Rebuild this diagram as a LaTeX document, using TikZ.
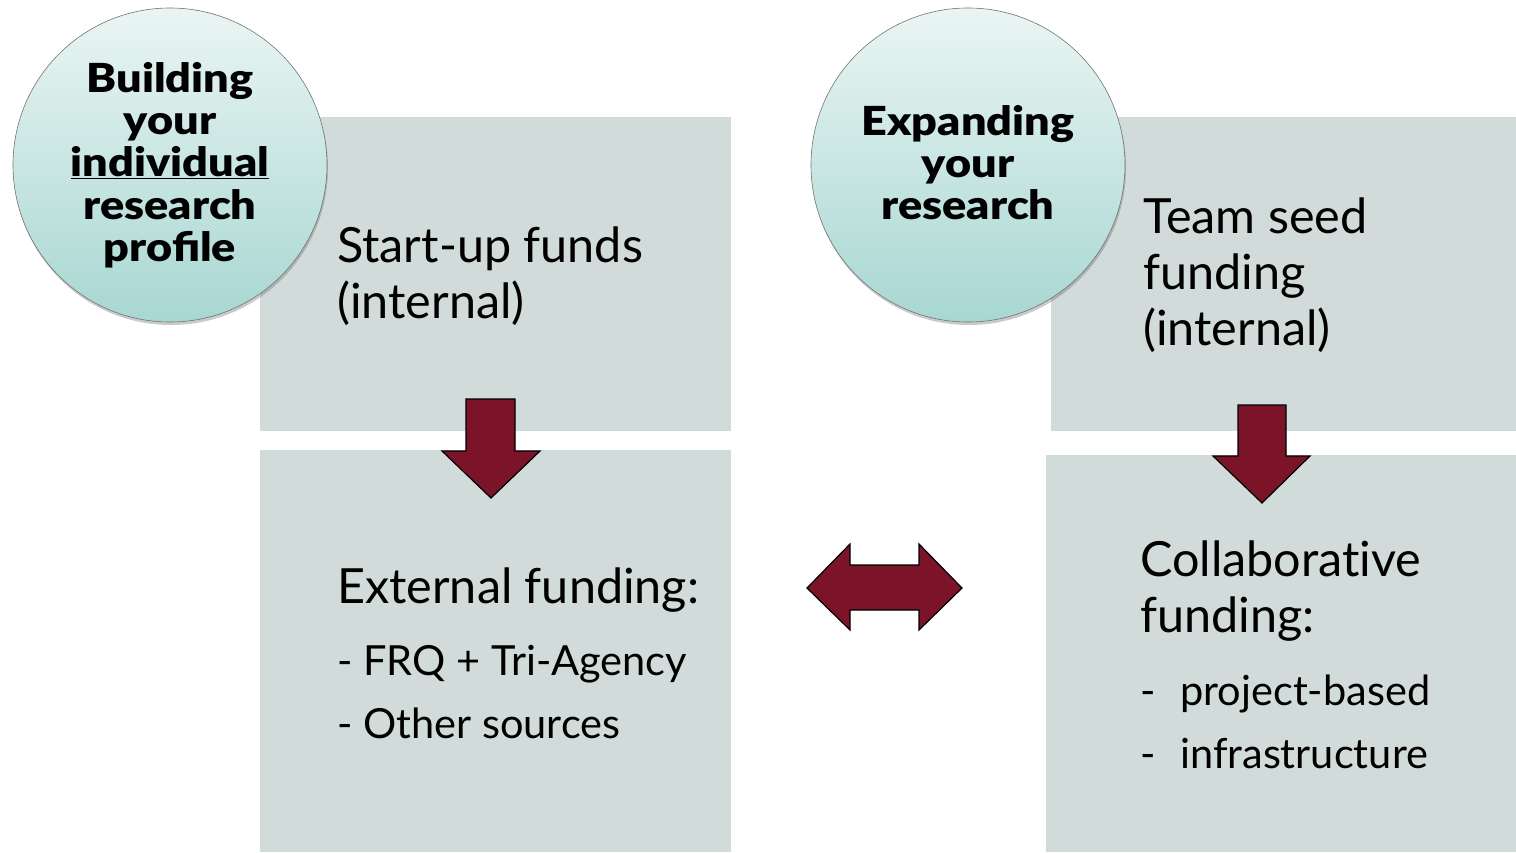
\documentclass[tikz,border=0pt]{standalone}
\usepackage{fontspec}
\setmainfont{Lato}[Ligatures=NoCommon]
\newfontfamily\heavy{Lato Black}[FakeStretch=1.125]
\usetikzlibrary{shadows}
\definecolor{boxgray}{HTML}{D0DBDA}
\definecolor{arrowred}{HTML}{7B1428}
\definecolor{circtop}{HTML}{EAF5F3}
\definecolor{circbot}{HTML}{A8D7D2}
\tikzset{
  box/.style={fill=boxgray, draw=none, anchor=north west, inner sep=0pt},
  circ/.style={circle, minimum size=314pt, inner sep=0pt, draw=black!55, line width=0.6pt,
    top color=circtop, bottom color=circbot,
    drop shadow={shadow xshift=1pt, shadow yshift=-3pt, opacity=0.35, fill=black!60}},
  ctext/.style={anchor=base, inner sep=0pt, font=\heavy\fontsize{40}{42}\selectfont},
  btext/.style={anchor=base west, inner sep=0pt, font=\fontsize{48.5}{56}\selectfont},
  stext/.style={anchor=base west, inner sep=0pt, font=\fontsize{41.5}{48}\selectfont},
  blockarrow/.style={fill=arrowred, draw=black, line width=1.2pt, line join=miter}
}
\begin{document}
\begin{tikzpicture}[x=1pt,y=-1pt]
\useasboundingbox (0,0) rectangle (1516,852);
% boxes
\node[box, minimum width=471pt, minimum height=314pt] (b1) at (260,117) {};
\node[box, minimum width=471pt, minimum height=402pt] (b2) at (260,450) {};
\node[box, minimum width=465pt, minimum height=314pt] (b3) at (1051,117) {};
\node[box, minimum width=470pt, minimum height=397pt] (b4) at (1046,455) {};
% circles
\node[circ] (c1) at (170,165) {};
\node[circ] (c2) at (968,165) {};
\node[ctext] (c1a) at (170,92) {Building};
\node[ctext] (c1b) at (170,134) {your};
\node[ctext] (c1c) at (170,176) {\underline{individual}};
\node[ctext] (c1d) at (170,219) {research};
\node[ctext] (c1e) at (170,261) {profile};
\node[ctext] (c2a) at (968,135) {Expanding};
\node[ctext] (c2b) at (968,177) {your};
\node[ctext] (c2c) at (968,219) {research};
% texts
\node[btext] (t1a) at (337,262) {Start-up funds};
\node[btext] (t1b) at (337,318) {(internal)};
\node[btext] (t2a) at (337,603) {External funding:};
\node[stext] (t2b) at (337,675) {- FRQ + Tri-Agency};
\node[stext] (t2c) at (337,738) {- Other sources};
\node[btext] (t3a) at (1143,233) {Team seed};
\node[btext] (t3b) at (1143,289) {funding};
\node[btext] (t3c) at (1143,345) {(internal)};
\node[btext] (t4a) at (1140,576) {Collaborative};
\node[btext] (t4b) at (1140,632) {funding:};
\node[stext] (t4c) at (1140,705) {-};
\node[stext] (t4d) at (1180,705) {project-based};
\node[stext] (t4e) at (1140,768) {-};
\node[stext] (t4f) at (1180,768) {infrastructure};
% arrows
\draw[blockarrow] (466,399) -- (515,399) -- (515,451) -- (540,451) -- (491,498) -- (442,451) -- (466,451) -- cycle;
\draw[blockarrow] (1238,405) -- (1286,405) -- (1286,456) -- (1310,456) -- (1262,503) -- (1213,456) -- (1238,456) -- cycle;
\draw[blockarrow] (807,588) -- (850,544) -- (850,565) -- (919,565) -- (919,544) -- (962,588) -- (919,630) -- (919,610) -- (850,610) -- (850,630) -- cycle;
\end{tikzpicture}
\end{document}
